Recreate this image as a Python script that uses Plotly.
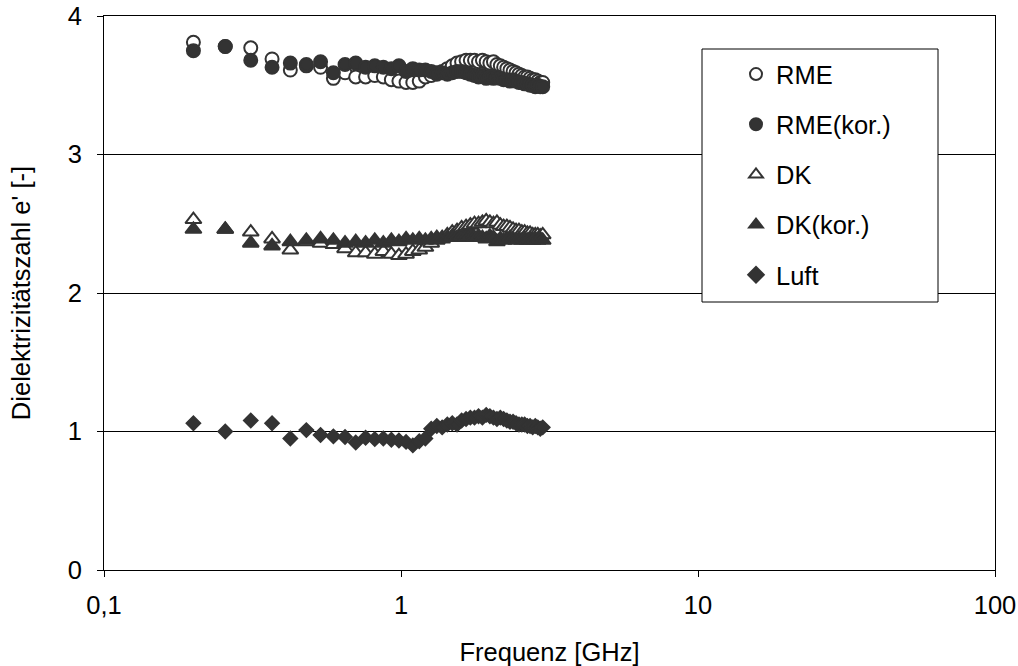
import plotly.graph_objects as go

# Frequency sweep: 51 points from 0.2 to 3.0 GHz
freq_ghz = [round(0.2 + 0.056 * k, 3) for k in range(51)]

rme = [3.81, 3.78, 3.77, 3.69, 3.61, 3.64, 3.63, 3.55, 3.59, 3.56,
       3.56, 3.57, 3.56, 3.54, 3.53, 3.52, 3.52, 3.53, 3.56, 3.57,
       3.59, 3.60, 3.62, 3.64, 3.66, 3.67, 3.68, 3.68, 3.68, 3.67,
       3.68, 3.67, 3.66, 3.67, 3.65, 3.64, 3.63, 3.62, 3.61, 3.60,
       3.59, 3.58, 3.57, 3.56, 3.56, 3.55, 3.54, 3.54, 3.53, 3.52,
       3.52]

rme_kor = [3.75, 3.78, 3.68, 3.63, 3.66, 3.65, 3.67, 3.59, 3.65, 3.66,
           3.63, 3.64, 3.63, 3.62, 3.64, 3.60, 3.62, 3.61, 3.61, 3.60,
           3.58, 3.59, 3.58, 3.59, 3.60, 3.60, 3.59, 3.58, 3.57, 3.56,
           3.57, 3.55, 3.56, 3.55, 3.56, 3.55, 3.54, 3.54, 3.53, 3.54,
           3.53, 3.52, 3.52, 3.51, 3.51, 3.50, 3.50, 3.49, 3.50, 3.49,
           3.49]

dk = [2.53, 2.46, 2.44, 2.39, 2.31, 2.37, 2.36, 2.35, 2.32, 2.29,
      2.29, 2.28, 2.30, 2.28, 2.27, 2.28, 2.30, 2.31, 2.33, 2.36,
      2.38, 2.40, 2.42, 2.44, 2.45, 2.47, 2.48, 2.49, 2.50, 2.50,
      2.51, 2.52, 2.51, 2.50, 2.51, 2.49, 2.48, 2.48, 2.47, 2.46,
      2.45, 2.45, 2.44, 2.44, 2.43, 2.43, 2.42, 2.42, 2.42, 2.41,
      2.42]

dk_kor = [2.46, 2.46, 2.36, 2.34, 2.37, 2.38, 2.39, 2.38, 2.36, 2.37,
          2.36, 2.38, 2.36, 2.38, 2.37, 2.39, 2.38, 2.39, 2.38, 2.39,
          2.40, 2.39, 2.40, 2.41, 2.40, 2.41, 2.40, 2.41, 2.40, 2.41,
          2.40, 2.39, 2.41, 2.40, 2.37, 2.39, 2.38, 2.39, 2.40, 2.39,
          2.38, 2.39, 2.38, 2.39, 2.38, 2.39, 2.38, 2.39, 2.38, 2.39,
          2.38]

luft = [1.06, 1.00, 1.08, 1.06, 0.95, 1.01, 0.975, 0.965, 0.96, 0.92,
        0.955, 0.945, 0.95, 0.94, 0.935, 0.925, 0.90, 0.93, 0.95, 1.02,
        1.04, 1.03, 1.05, 1.06, 1.05, 1.08, 1.09, 1.10, 1.10, 1.11,
        1.10, 1.12, 1.11, 1.10, 1.09, 1.10, 1.09, 1.08, 1.07, 1.07,
        1.06, 1.05, 1.05, 1.05, 1.04, 1.04, 1.03, 1.04, 1.03, 1.02,
        1.03]

x_tick_vals = [0.1, 1, 10, 100]
x_tick_text = ["0,1", "1", "10", "100"]
y_tick_vals = [0, 1, 2, 3, 4]

DARK = "#333333"
FONT = "Liberation Sans, Arial, sans-serif"
FS = 25.5

# Plot area in pixels
L, R, T, B = 104, 995, 16, 570
W, H = R - L, B - T

# name, values, symbol, fill colour, size, outline width
series = [
    ("RME", rme, "circle", "white", 13, 2),
    ("RME(kor.)", rme_kor, "circle", DARK, 13, 2),
    ("DK", dk, "triangle-up", "white", 14, 2),
    ("DK(kor.)", dk_kor, "triangle-up", DARK, 14, 2),
    ("Luft", luft, "diamond", DARK, 11, 1.5),
]

fig = go.Figure()
for i, (name, vals, sym, fill, size, lw) in enumerate(series):
    fig.add_trace(go.Scatter(
        x=freq_ghz, y=vals, mode="markers", name=name,
        legendgroup=f"g{i}",
        marker=dict(symbol=sym, size=size, color=fill,
                    line=dict(color=DARK, width=lw)),
    ))

axis_common = dict(
    showline=True, linecolor="black", linewidth=1, mirror=True,
    ticks="outside", ticklen=6, tickcolor="black",
    tickfont=dict(family=FONT, size=FS, color="black"),
    zeroline=False, automargin=False,
)

fig.update_xaxes(
    type="log", range=[-1, 2], tickvals=x_tick_vals, ticktext=x_tick_text,
    showgrid=False, ticklabelstandoff=6,
    title=dict(text="Frequenz [GHz]", font=dict(family=FONT, size=FS, color="black"),
               standoff=26),
    **axis_common,
)
fig.update_yaxes(
    range=[0, 4], tickvals=y_tick_vals, showgrid=True,
    gridcolor="black", gridwidth=1, ticklabelstandoff=10,
    title=dict(text="Dielektrizitätszahl e' [-]",
               font=dict(family=FONT, size=FS, color="black"), standoff=29),
    **axis_common,
)

# Legend frame (drawn as a shape so its width can be set freely)
fig.add_shape(
    type="rect", xref="paper", yref="paper",
    x0=(702 - L) / W, x1=(938 - L) / W,
    y0=(B - 302) / H, y1=(B - 49) / H,
    line=dict(color="black", width=1), fillcolor="white", layer="above",
)

fig.update_layout(
    width=1018, height=666,
    margin=dict(l=L, r=1018 - R, t=T, b=666 - B, autoexpand=False),
    paper_bgcolor="white", plot_bgcolor="white",
    showlegend=True,
    legend=dict(
        x=(702 - L) / W, y=(B - 51) / H, xanchor="left", yanchor="top",
        bgcolor="rgba(0,0,0,0)", borderwidth=0,
        font=dict(family=FONT, size=FS, color="black"),
        tracegroupgap=14, indentation=34,
        itemsizing="constant",
    ),
)

fig.write_html("out.html")
